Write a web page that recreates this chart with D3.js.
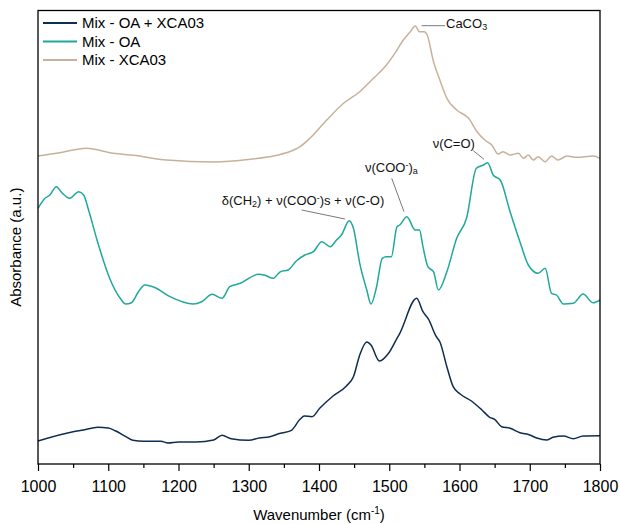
<!DOCTYPE html>
<html>
<head>
<meta charset="utf-8">
<script src="https://cdn.jsdelivr.net/npm/d3@7"></script>
<style>
  body { margin: 0; background: #fff; }
  text { font-family: "Liberation Sans", Arial, sans-serif; }
</style>
</head>
<body>
<div id="chart"></div>
<script>
// spectra: wavenumber (cm-1) and absorbance (a.u., offset per trace)
var mixOaXcaWn = [1000,1050,1065,1085,1100,1110,1125,1135,1150,1175,1185,1200,1225,1250,1262,1275,1300,1315,1330,1345,1360,1373,1379,1390,1401,1420,1439,1449,1458,1468,1474,1486,1499,1511,1515,1539,1548,1556,1567,1572,1582,1591,1601,1617,1632,1643,1650,1660,1672,1686,1700,1710,1724,1733,1748,1762,1776,1800];
var mixOaXcaAbs = [2.30,3.23,3.40,3.67,3.60,3.33,2.73,2.37,2.27,2.27,2.10,2.20,2.20,2.40,2.87,2.53,2.37,2.60,2.73,3.07,3.33,4.47,4.80,4.73,5.57,6.80,7.80,8.73,10.90,12.20,11.90,10.30,11.07,12.57,13.07,16.57,15.23,14.47,12.73,12.23,9.73,7.73,7.00,6.30,5.40,4.67,4.47,3.73,3.57,3.13,2.90,2.60,2.40,2.67,2.80,2.53,2.80,2.83];

var mixOaWn = [1000,1010,1017,1026,1034,1045,1058,1065,1072,1084,1103,1117,1125,1133,1143,1152,1167,1188,1221,1233,1248,1262,1273,1288,1314,1323,1335,1345,1356,1368,1380,1392,1404,1416,1425,1432,1443,1449,1458,1468,1474,1482,1490,1496,1503,1511,1515,1525,1537,1543,1548,1555,1563,1570,1582,1596,1610,1624,1634,1640,1648,1658,1672,1686,1698,1712,1722,1731,1738,1748,1762,1776,1790,1800];
var mixOaAbs = [25.57,26.57,26.90,27.73,27.13,26.57,27.23,26.90,25.40,22.40,18.40,16.57,16.00,16.13,17.23,17.90,17.63,16.73,16.00,16.23,16.97,16.57,17.73,18.07,18.97,18.87,18.57,19.23,19.40,20.33,20.90,21.23,22.23,21.73,22.40,22.90,24.33,23.57,20.07,17.40,16.00,17.73,20.57,20.73,20.73,23.73,23.90,24.73,23.40,23.40,21.73,19.73,19.23,17.40,19.23,22.57,24.57,29.57,29.90,30.13,28.90,28.40,25.23,22.23,19.90,19.07,19.57,17.07,16.90,16.00,16.07,17.00,16.13,16.40];

var mixXcaWn = [1000,1031,1069,1107,1136,1183,1250,1302,1340,1364,1373,1387,1411,1435,1458,1475,1492,1508,1520,1530,1537,1543,1550,1554,1563,1572,1582,1596,1613,1625,1636,1646,1655,1662,1672,1684,1691,1698,1705,1712,1722,1731,1740,1753,1767,1790,1800];
var mixXcaAbs = [30.80,31.13,31.57,31.07,30.87,30.40,30.20,30.47,30.87,31.40,31.73,32.57,34.40,36.07,37.23,38.40,39.57,41.07,42.40,43.23,43.80,43.23,43.23,42.90,40.23,38.40,36.57,35.40,34.57,33.23,32.40,31.90,31.00,31.23,30.90,31.07,30.57,30.90,30.40,30.73,30.23,30.80,30.40,30.80,30.67,30.80,30.57];

var seriesNames = ["Mix - OA + XCA03", "Mix - OA", "Mix - XCA03"];
var seriesColors = ["#0f2d50", "#1fa89b", "#c8b19b"];
var xTicks = [1000,1100,1200,1300,1400,1500,1600,1700,1800];
var xMinorTicks = [1050,1150,1250,1350,1450,1550,1650,1750];

var margin = {top: 10.5, right: 20, bottom: 60, left: 38},
    width = 620 - margin.left - margin.right,
    height = 524 - margin.top - margin.bottom;

var svg = d3.select("#chart")
  .append("svg")
    .attr("width", 620)
    .attr("height", 524)
  .append("g")
    .attr("transform", "translate(" + margin.left + "," + margin.top + ")");

var x = d3.scaleLinear().domain([1000, 1800]).range([0, width]);
var y = d3.scaleLinear().domain([0, 45.35]).range([height, 0]);

// build point lists for d3.line
var traces = [
  d3.zip(mixOaXcaWn, mixOaXcaAbs),
  d3.zip(mixOaWn, mixOaAbs),
  d3.zip(mixXcaWn, mixXcaAbs)
];

var line = d3.line()
  .x(function(d) { return x(d[0]); })
  .y(function(d) { return y(d[1]); })
  .curve(d3.curveMonotoneX);

svg.append("g")
  .selectAll("path")
  .data(traces)
  .enter().append("path")
    .attr("d", line)
    .attr("fill", "none")
    .attr("stroke", function(d, i) { return seriesColors[i]; })
    .attr("stroke-width", 1.5)
    .attr("stroke-linejoin", "round");

// x axis, major + minor ticks
var xAxis = svg.append("g")
  .attr("transform", "translate(0," + height + ")")
  .call(d3.axisBottom(x).tickValues(xTicks).tickFormat(d3.format("d")).tickSize(7).tickPadding(9.5));
xAxis.select(".domain").remove();
xAxis.selectAll("line").attr("stroke", "#000").attr("stroke-width", 1.2);
xAxis.selectAll("text").attr("fill", "#000").style("font-size", "16px").style("font-family", "Liberation Sans, Arial, sans-serif");

var xMinor = svg.append("g")
  .attr("transform", "translate(0," + height + ")")
  .call(d3.axisBottom(x).tickValues(xMinorTicks).tickFormat("").tickSize(4));
xMinor.select(".domain").remove();
xMinor.selectAll("line").attr("stroke", "#000").attr("stroke-width", 1.2);

// frame
svg.append("rect")
  .attr("width", width)
  .attr("height", height)
  .attr("fill", "none")
  .attr("stroke", "#000")
  .attr("stroke-width", 1.3);

// axis titles
var xt = svg.append("text")
  .attr("x", width / 2)
  .attr("y", height + 56)
  .attr("text-anchor", "middle")
  .style("font-size", "15px");
xt.append("tspan").text("Wavenumber (cm");
xt.append("tspan").attr("dy", -6).style("font-size", "10px").text("-1");
xt.append("tspan").attr("dy", 6).text(")");

svg.append("text")
  .attr("transform", "translate(" + (-17) + "," + (height / 2 + 10) + ")rotate(-90)")
  .attr("text-anchor", "middle")
  .style("font-size", "15px")
  .text("Absorbance (a.u.)");

// legend
var legend = svg.append("g")
  .selectAll("g")
  .data(seriesNames)
  .enter().append("g")
    .attr("transform", function(d, i) { return "translate(5," + (12.5 + i * 18.5) + ")"; });
legend.append("line")
  .attr("x1", 0).attr("x2", 34)
  .attr("stroke", function(d, i) { return seriesColors[i]; })
  .attr("stroke-width", 1.8);
legend.append("text")
  .attr("x", 39)
  .attr("dy", "0.35em")
  .style("font-size", "15px")
  .text(function(d) { return d; });

// band annotations, anchored in data units
function label(parts, wn, ab) {
  var t = svg.append("text")
    .attr("x", x(wn))
    .attr("y", y(ab))
    .style("font-size", "13px")
    .attr("fill", "#111");
  parts.forEach(function(p) {
    var s = t.append("tspan").text(p[0]);
    if (p[1] == "sub") s.attr("baseline-shift", "-25%").style("font-size", "9px");
    if (p[1] == "sup") s.attr("baseline-shift", "40%").style("font-size", "9px");
  });
}
function leader(wn1, ab1, wn2, ab2) {
  svg.append("line")
    .attr("x1", x(wn1)).attr("y1", y(ab1))
    .attr("x2", x(wn2)).attr("y2", y(ab2))
    .attr("stroke", "#555")
    .attr("stroke-width", 0.8);
}

label([["CaCO"], ["3", "sub"]], 1580.8, 43.57);
leader(1546.2, 43.83, 1579.4, 43.83);

label([["\u03b4(CH"], ["2", "sub"], [") + \u03bd(COO"], ["-", "sup"], [")s + \u03bd(C-O)"]], 1261.5, 25.9);
leader(1375.4, 25.4, 1437.0, 24.5);

label([["\u03bd(COO"], ["-", "sup"], [")"], ["a", "sub"]], 1465.5, 29.23);
leader(1503.5, 28.57, 1521.0, 25.23);

label([["\u03bd(C=O)"]], 1561.8, 31.57);
leader(1619.6, 31.33, 1634.9, 30.47);
</script>
</body>
</html>
